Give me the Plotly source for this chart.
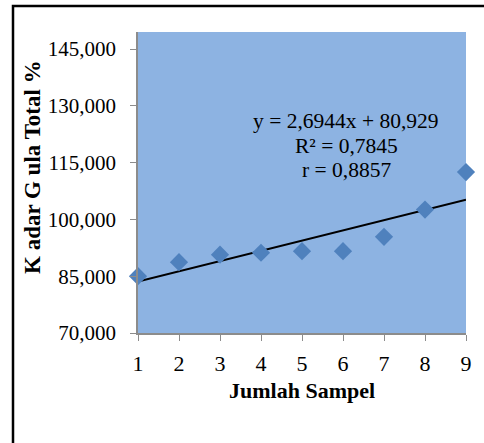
import plotly.graph_objects as go

# Sample number and total sugar content (%)
sampel = [1, 2, 3, 4, 5, 6, 7, 8, 9]
kadar_gula = [85.0, 88.7, 90.7, 91.2, 91.6, 91.6, 95.4, 102.6, 112.5]

# Linear trendline coefficients and fit statistics
slope = 2.6944
intercept = 80.929
r_squared = "0,7845"
r_value = "0,8857"

y_tick_vals = [70, 85, 100, 115, 130, 145]
y_tick_text = ["70,000", "85,000", "100,000", "115,000", "130,000", "145,000"]

W, H = 484, 443
L, R, T, B = 138, 18, 32, 110
pw, ph = W - L - R, H - T - B


def px_x(x):
    return (x - L) / pw


def px_y(y):
    return (H - B - y) / ph


serif = "Liberation Serif, Times New Roman, serif"

trend_x = [sampel[0], sampel[-1]]
trend_y = [slope * x + intercept for x in trend_x]

fig = go.Figure()
fig.add_trace(go.Scatter(
    x=trend_x, y=trend_y, mode="lines",
    line=dict(color="black", width=2), hoverinfo="skip", showlegend=False,
))
fig.add_trace(go.Scatter(
    x=sampel, y=kadar_gula, mode="markers",
    marker=dict(symbol="diamond", size=14, color="#4F81BD"),
    showlegend=False, cliponaxis=False,
))

fig.update_layout(
    width=W, height=H,
    margin=dict(l=L, r=R, t=T, b=B),
    paper_bgcolor="white",
    plot_bgcolor="#8DB3E2",
    xaxis=dict(
        range=[1, 9], tickvals=sampel, ticks="outside", ticklen=6,
        tickcolor="#8C8C8C", showline=True, linecolor="#8C8C8C", linewidth=1.5,
        showgrid=False, zeroline=False,
        tickfont=dict(family=serif, size=22, color="black"),
        ticklabelstandoff=4,
    ),
    yaxis=dict(
        range=[70, 149.5], tickvals=y_tick_vals, ticktext=y_tick_text,
        ticks="outside", ticklen=6, tickcolor="#8C8C8C", showline=True,
        linecolor="#8C8C8C", linewidth=1.5, showgrid=False, zeroline=False,
        tickfont=dict(family=serif, size=21, color="black"),
        ticklabelstandoff=10,
    ),
    font=dict(family=serif, color="black"),
)

annotations = [
    dict(text="Jumlah Sampel", x=px_x(302), y=px_y(390),
         font=dict(family=serif, size=22, color="black", weight="bold")),
    dict(text="K adar G ula Total %", x=px_x(32), y=px_y(167), textangle=-90,
         font=dict(family=serif, size=23, color="black", weight="bold")),
    dict(text=f"y = {str(slope).replace('.', ',')}x + {str(intercept).replace('.', ',')}",
         x=px_x(346), y=px_y(121), font=dict(family=serif, size=21.5, color="black")),
    dict(text=f"R² = {r_squared}", x=px_x(346), y=px_y(146),
         font=dict(family=serif, size=21.5, color="black")),
    dict(text=f"r = {r_value}", x=px_x(346), y=px_y(170),
         font=dict(family=serif, size=21.5, color="black")),
]
for a in annotations:
    a.update(xref="paper", yref="paper", showarrow=False,
             xanchor="center", yanchor="middle")
fig.update_layout(annotations=annotations)

# Outer chart frame (left and top edges visible)
fig.add_shape(type="rect", xref="paper", yref="paper",
              x0=px_x(13), y0=px_y(6), x1=px_x(495), y1=px_y(460),
              line=dict(color="black", width=2.5), layer="above")

fig.write_html("out.html")
